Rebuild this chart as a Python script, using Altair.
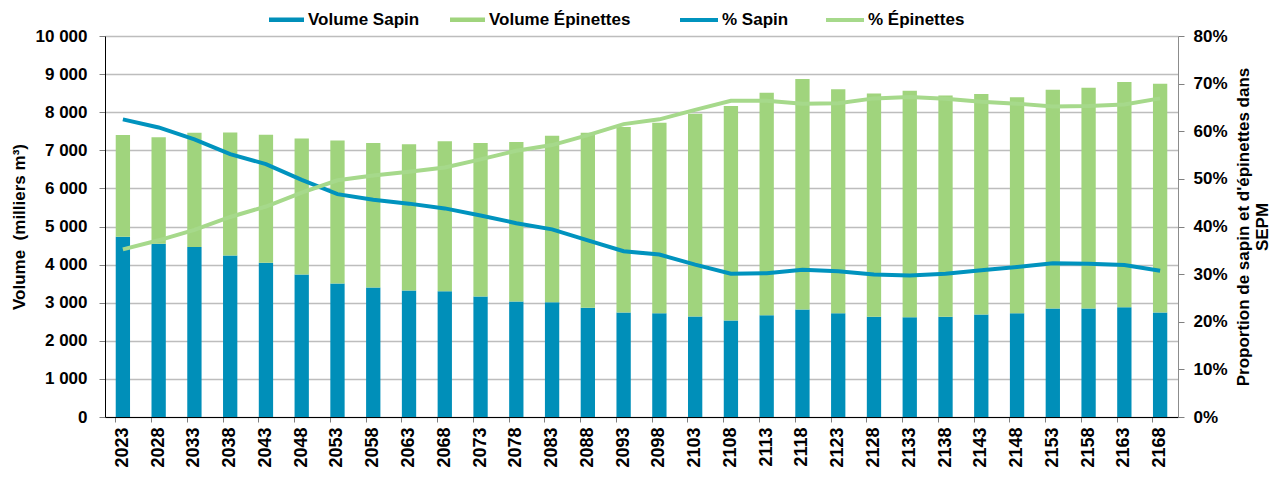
import altair as alt
import pandas as pd

years = ["2023", "2028", "2033", "2038", "2043", "2048", "2053", "2058", "2063", "2068",
         "2073", "2078", "2083", "2088", "2093", "2098", "2103", "2108", "2113", "2118",
         "2123", "2128", "2133", "2138", "2143", "2148", "2153", "2158", "2163", "2168"]

vol_sapin = [4730, 4550, 4460, 4240, 4050, 3740, 3505, 3400, 3320, 3300,
             3160, 3030, 3010, 2870, 2740, 2720, 2640, 2530, 2670, 2820,
             2720, 2630, 2620, 2630, 2690, 2720, 2850, 2850, 2880, 2740]

vol_epinettes = [2670, 2790, 3000, 3230, 3360, 3570, 3755, 3790, 3840, 3940,
                 4030, 4190, 4370, 4590, 4870, 5000, 5320, 5630, 5840, 6050,
                 5880, 5860, 5940, 5810, 5790, 5670, 5740, 5790, 5910, 6010]

pct_sapin = [62.5, 60.8, 58.3, 55.2, 53.1, 49.8, 46.8, 45.6, 44.8, 43.8,
             42.3, 40.7, 39.4, 37.1, 34.8, 34.1, 32.0, 30.1, 30.2, 30.9,
             30.6, 29.9, 29.7, 30.1, 30.8, 31.5, 32.3, 32.2, 31.9, 30.7]

pct_epinettes = [35.2, 37.1, 39.3, 42.0, 44.2, 47.1, 49.7, 50.7, 51.5, 52.4,
                 54.1, 55.9, 57.1, 59.2, 61.5, 62.5, 64.5, 66.4, 66.4, 65.8,
                 65.9, 66.9, 67.2, 66.8, 66.2, 65.8, 65.2, 65.3, 65.6, 66.9]

bar_series = ["Volume Sapin", "Volume Épinettes"]
line_series = ["% Sapin", "% Épinettes"]
bar_colors = ["#008FB9", "#A0D47D"]
line_colors = ["#0093BE", "#A6D98B"]

n = len(years)
df_bar = pd.DataFrame({
    "Année": years * 2,
    "Série": [bar_series[0]] * n + [bar_series[1]] * n,
    "Volume": vol_sapin + vol_epinettes,
    "ordre": [0] * n + [1] * n,
})
df_line = pd.DataFrame({
    "Année": years * 2,
    "Série": [line_series[0]] * n + [line_series[1]] * n,
    "Pourcentage": pct_sapin + pct_epinettes,
})

FONT = "Liberation Sans"

x_enc = alt.X(
    "Année:O", sort=years,
    scale=alt.Scale(paddingInner=0.6, paddingOuter=0.3),
    axis=alt.Axis(title=None, labelAngle=-90, bandPosition=0,
                  tickSize=5, tickColor="#808080", domainColor="#000000",
                  labelFontSize=18, labelPadding=5, grid=False),
)

bars = alt.Chart(df_bar).mark_bar().encode(
    x=x_enc,
    y=alt.Y("Volume:Q", stack="zero",
            scale=alt.Scale(domain=[0, 10000], nice=False),
            axis=alt.Axis(orient="left", values=list(range(0, 10001, 1000)),
                          title="Volume\u00a0\u00a0(milliers m³)",
                          labelExpr="datum.value >= 1000 ? floor(datum.value/1000) + ' 000' : '' + datum.value",
                          grid=True, gridColor="#BDBDBD", gridWidth=1.5,
                          domainColor="#000000", tickColor="#808080", tickSize=6,
                          labelPadding=12, labelFontSize=17,
                          titleFontSize=17, titlePadding=7)),
    color=alt.Color("Série:N",
                    scale=alt.Scale(domain=bar_series, range=bar_colors),
                    legend=alt.Legend(title=None, orient="none", direction="horizontal",
                                      legendX=164, legendY=-34, padding=0,
                                      symbolType="M-1,-0.13H1V0.13H-1Z", symbolSize=1225,
                                      symbolStrokeWidth=0, labelOffset=4, columnPadding=30,
                                      labelFontSize=17)),
    order=alt.Order("ordre:Q", sort="ascending"),
)

lines = alt.Chart(df_line).mark_line(strokeWidth=4).encode(
    x=alt.X("Année:O", sort=years),
    y=alt.Y("Pourcentage:Q",
            scale=alt.Scale(domain=[0, 80], nice=False),
            axis=alt.Axis(orient="right", values=list(range(0, 81, 10)),
                          labelExpr="datum.value + '%'", grid=False,
                          title=["Proportion de sapin et d'épinettes dans", "SEPM"],
                          titleAngle=270, titleFontSize=17, titleLineHeight=19,
                          domainColor="#8C8C8C", tickColor="#808080", tickSize=6,
                          labelPadding=9, labelFontSize=17, titlePadding=6)),
    color=alt.Color("Série:N",
                    scale=alt.Scale(domain=line_series, range=line_colors),
                    legend=alt.Legend(title=None, orient="none", direction="horizontal",
                                      legendX=573, legendY=-37, padding=0,
                                      symbolType="stroke", symbolSize=1444,
                                      symbolStrokeWidth=4, labelOffset=2, columnPadding=29,
                                      labelFontSize=17)),
)

chart = alt.layer(bars, lines).resolve_scale(
    y="independent", color="independent"
).properties(
    width=1073, height=381,
    autosize=alt.AutoSizeParams(type="none"),
    padding={"left": 97, "top": 28, "right": 95, "bottom": 61},
).configure_view(
    stroke=None
).configure_axis(
    labelFont=FONT, labelFontWeight="bold", labelColor="#000000",
    titleFont=FONT, titleFontWeight="bold", titleColor="#000000",
).configure_legend(
    labelFont=FONT, labelFontWeight="bold", labelColor="#000000",
)

chart.save("out.html", embed_options={"renderer": "svg", "actions": False})
